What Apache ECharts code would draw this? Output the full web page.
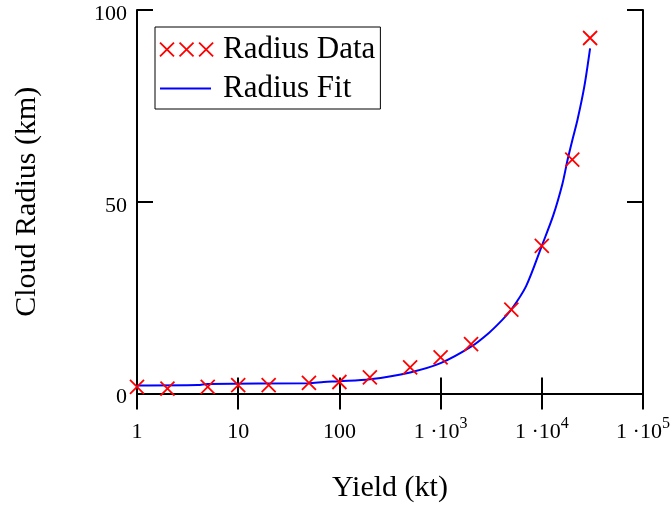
<!DOCTYPE html>
<html>
<head>
<meta charset="utf-8">
<script src="https://cdn.jsdelivr.net/npm/echarts@6/dist/echarts.min.js"></script>
<style>
  html, body { margin: 0; padding: 0; background: #fff; }
  #chart { width: 670px; height: 512px; }
</style>
</head>
<body>
<div id="chart"></div>
<script>
// measured data points (yield kt, radius km)
const dataYield = [1, 2, 5, 10, 20, 50, 100, 200, 500, 1000, 2000, 5000, 10000, 20000, 30000];
const dataRadius = [1.7, 1.3, 1.7, 2.2, 2.2, 2.8, 3.0, 4.2, 6.8, 9.4, 12.9, 21.9, 38.5, 61.0, 92.7];

// fit curve
const fitYield = [1, 4, 5, 50, 70, 100, 200, 500, 1000, 2000, 3000, 4000, 5000, 7000, 10000, 13000, 16000, 18000, 20000, 22500, 26300, 30000];
const fitRadius = [2.1, 2.2, 2.5, 2.7, 3.0, 3.2, 3.7, 5.5, 7.9, 12.2, 15.8, 19.0, 21.9, 28.0, 38.5, 46.5, 54.7, 61.0, 66.0, 71.3, 80.0, 90.0];

// tick labels: base text and exponent ('' = none)
const xTickBase = ['1', '10', '100', '1 ·10', '1 ·10', '1 ·10'];
const xTickExp = ['', '', '', '3', '4', '5'];
const yTicks = [0, 50, 100];

const font = 'Liberation Serif';
// crosses, with empty moves to widen the icon box (leaves a gap before the text)
const crossPath = 'path://M0,0L10,10M10,0L0,10';
const crossLegend = 'path://M0,0L10,10M10,0L0,10M14,0L24,10M24,0L14,10M28,0L38,10M38,0L28,10M41.5,10L41.5,10';
const lineLegend = 'path://M0,0L0,0M0,7L51,7M0,14L0,14M58,14L58,14';

let chart = echarts.init(document.getElementById('chart'));

const axisLine = { lineStyle: { color: '#000', width: 2 } };
const axisTick = { inside: true, length: 16, lineStyle: { color: '#000', width: 2 } };

chart.setOption({
  animation: false,
  grid: { left: 137, right: 27, top: 10, bottom: 118.5, outerBoundsMode: 'none', containLabel: false },
  legend: {
    orient: 'vertical',
    left: 155,
    top: 27,
    padding: [7, 5, 5, 4],
    itemGap: 8,
    itemWidth: 58,
    itemHeight: 14,
    borderColor: '#000',
    borderWidth: 1,
    backgroundColor: '#fff',
    textStyle: { fontFamily: font, fontSize: 31, color: '#000' },
    data: [
      { name: 'Radius Data', icon: crossLegend,
        itemStyle: { color: 'transparent', borderColor: '#ff0000', borderWidth: 1.8 } },
      { name: 'Radius Fit', icon: lineLegend,
        itemStyle: { color: 'transparent', borderColor: '#0000ff', borderWidth: 2 } }
    ]
  },
  xAxis: [
    {
      type: 'log', logBase: 10, min: 1, max: 100000,
      name: 'Yield (kt)', nameLocation: 'middle', nameGap: 80,
      nameTextStyle: { fontFamily: font, fontSize: 30, color: '#000' },
      axisLine: Object.assign({ onZero: false }, axisLine),
      axisTick: axisTick,
      minorTick: { show: false },
      splitLine: { show: false },
      axisLabel: {
        margin: 22,
        formatter: v => {
          const i = Math.round(Math.log10(v));
          return '{b|' + xTickBase[i] + '}' + (xTickExp[i] ? '{sup|' + xTickExp[i] + '}' : '');
        },
        rich: {
          b: { fontFamily: font, fontSize: 22, color: '#000', lineHeight: 22, padding: [11, 0, 0, 0] },
          sup: { fontFamily: font, fontSize: 16, color: '#000', lineHeight: 16, verticalAlign: 'top' }
        }
      }
    },
    {
      type: 'log', logBase: 10, min: 1, max: 100000, position: 'top',
      axisLine: axisLine, axisTick: axisTick,
      axisLabel: { show: false }, splitLine: { show: false }
    }
  ],
  yAxis: [
    {
      type: 'value', min: yTicks[0], max: yTicks[2], interval: 50,
      name: 'Cloud Radius (km)', nameLocation: 'middle', nameGap: 95,
      nameTextStyle: { fontFamily: font, fontSize: 30, color: '#000' },
      axisLine: Object.assign({ show: true, onZero: false }, axisLine),
      axisTick: Object.assign({ show: true }, axisTick),
      splitLine: { show: false },
      axisLabel: {
        margin: 10,
        formatter: v => '{a|' + v + '}',
        rich: { a: { fontFamily: font, fontSize: 22, color: '#000', lineHeight: 22, padding: [8, 0, 0, 0] } }
      }
    },
    {
      type: 'value', min: yTicks[0], max: yTicks[2], interval: 50, position: 'right',
      axisLine: Object.assign({ show: true }, axisLine),
      axisTick: Object.assign({ show: true }, axisTick),
      axisLabel: { show: false }, splitLine: { show: false }
    }
  ],
  series: [
    {
      name: 'Radius Fit',
      type: 'line',
      data: fitYield.map((x, i) => [x, fitRadius[i]]),
      symbol: 'none',
      smooth: 0.3,
      lineStyle: { color: '#0000ff', width: 2 },
      itemStyle: { color: '#0000ff' },
      z: 2
    },
    {
      name: 'Radius Data',
      type: 'scatter',
      data: dataYield.map((x, i) => [x, dataRadius[i]]),
      symbol: crossPath,
      symbolSize: 14,
      itemStyle: { color: 'transparent', borderColor: '#ff0000', borderWidth: 1.8, opacity: 1 },
      z: 3
    }
  ]
});
</script>
</body>
</html>
